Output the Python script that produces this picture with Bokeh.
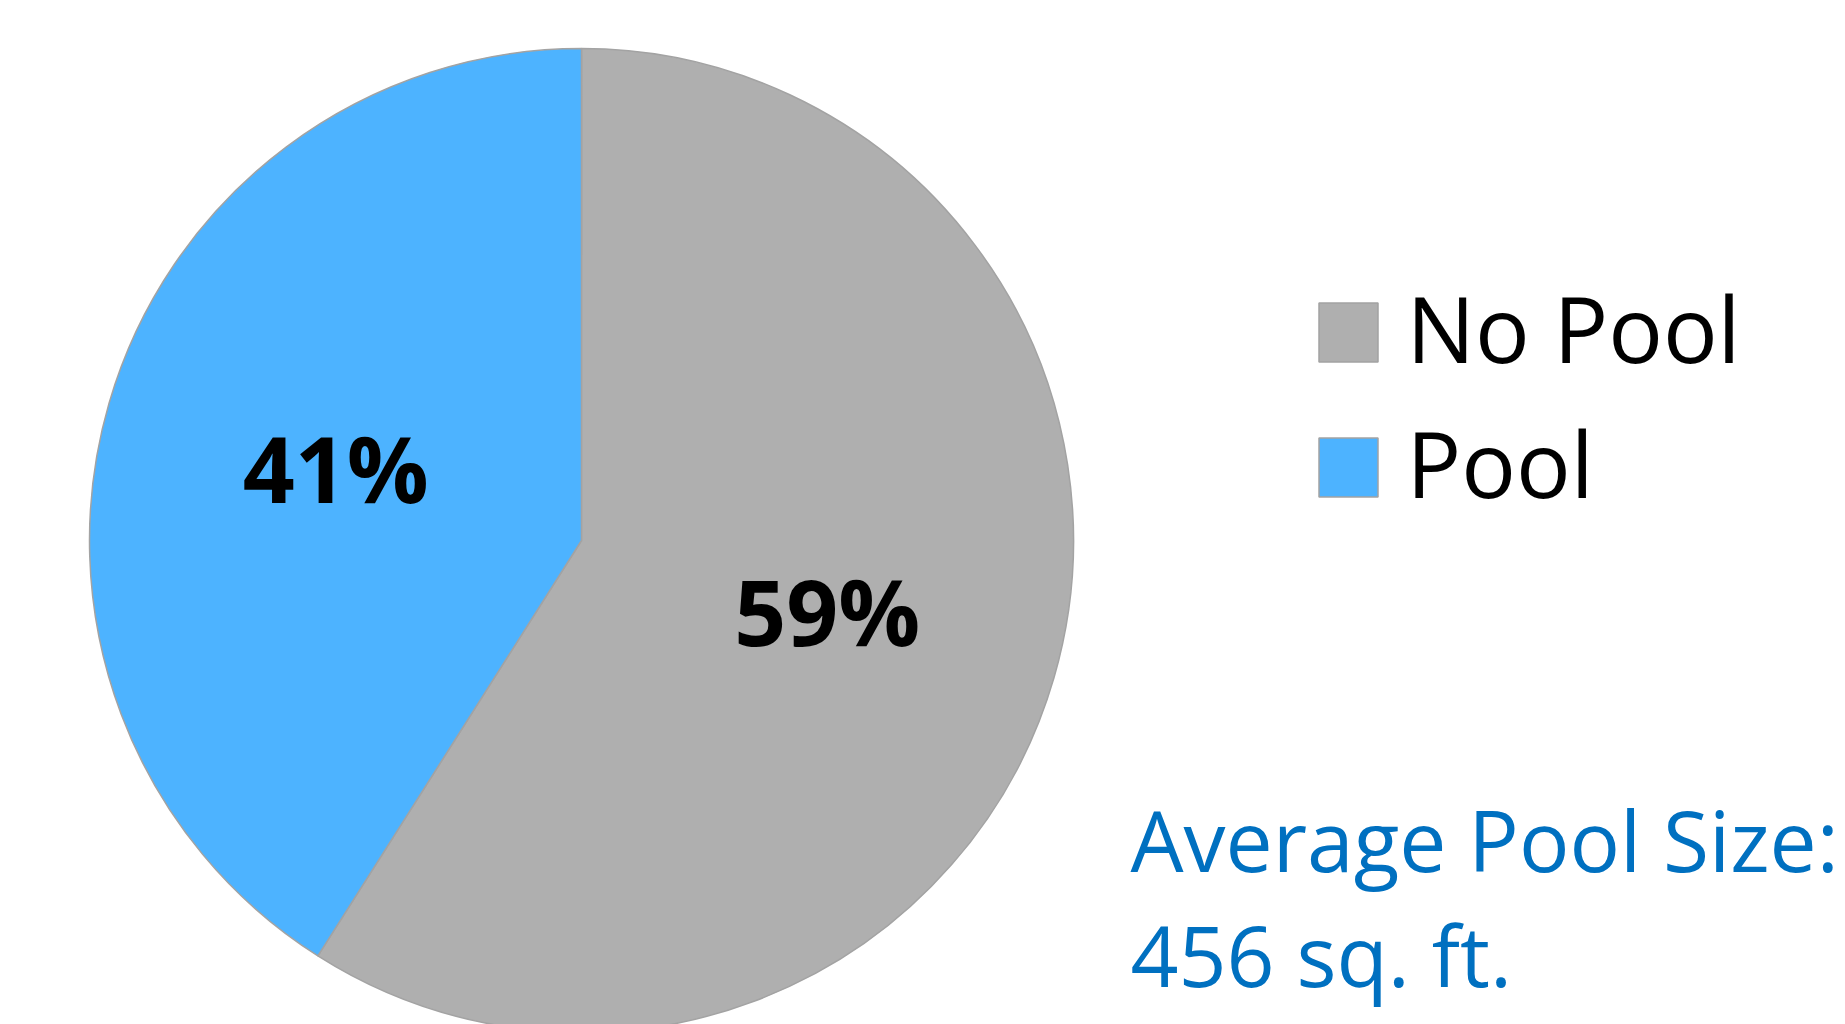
import numpy as np
from bokeh.plotting import figure
from bokeh.models import Range1d, ColumnDataSource
from bokeh.core.properties import value
from bokeh.embed import file_html
from bokeh.resources import INLINE

# ---- data ----
categories = ["No Pool", "Pool"]
shares = [59, 41]
colors = ["#AFAFAF", "#4DB3FF"]
note_lines = ["Average Pool Size:", "456 sq. ft."]

W, H = 1845, 1024
p = figure(width=W, height=H, output_backend="svg", toolbar_location=None,
           x_range=Range1d(0, W), y_range=Range1d(0, H), min_border=0)
p.axis.visible = False
p.grid.visible = False
p.outline_line_color = None
p.background_fill_color = "white"
p.border_fill_color = "white"

cx, cy, R = 581, 484, 492
frac = np.array(shares, dtype=float) / sum(shares)
top = np.pi / 2
starts = [top - frac[0] * 2 * np.pi, top]
ends = [top, top + frac[1] * 2 * np.pi]
src = ColumnDataSource(dict(cat=categories, start=starts, end=ends, color=colors,
                            label=[f"{s}%" for s in shares]))
p.wedge(x=cx, y=cy, radius=R, start_angle="start", end_angle="end",
        fill_color="color", line_color="#A3A3A3", line_width=1.5, source=src)

mid = (np.array(starts) + np.array(ends)) / 2
lr = 0.52 * R
src.data["lx"] = list(cx + lr * np.cos(mid))
src.data["ly"] = list(cy + lr * np.sin(mid) - 33 + 34)
p.text(x="lx", y="ly", text="label", source=src, text_align="center",
       text_baseline="alphabetic", text_font=value("Open Sans"),
       text_font_style="bold", text_font_size="91px", text_color="black")

# legend
n = len(categories)
leg_y = [692 - 135 * i for i in range(n)]
p.rect(x=[1348] * n, y=leg_y, width=59, height=59, fill_color=colors,
       line_color="#A3A3A3", line_width=1.5)
p.text(x=[1406] * n, y=[v - 30 + 35 for v in leg_y], text=categories,
       text_align="left", text_baseline="alphabetic",
       text_font=value("Open Sans"), text_font_size="91px", text_color="black")

# note
p.text(x=[1130] * len(note_lines), y=[153 + 32, 38 + 32], text=note_lines,
       text_align="left", text_baseline="alphabetic",
       text_font=value("Open Sans"), text_font_size="84px", text_color="#0070C0")

open("out.html", "w").write(file_html(p, INLINE))
